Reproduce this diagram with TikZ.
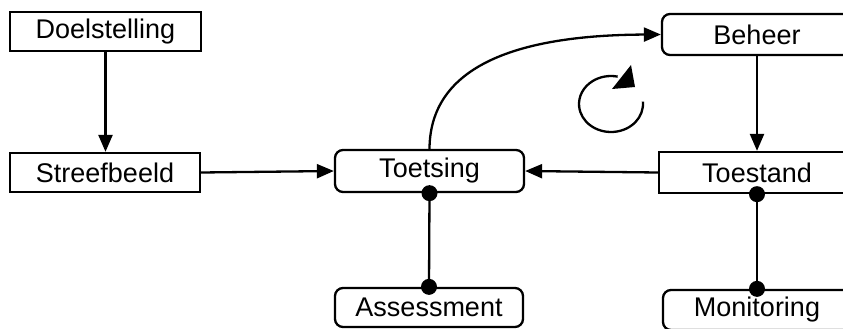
\documentclass[tikz,border=0pt]{standalone}
\usepackage{fontspec}
\setmainfont{Liberation Sans}
\usetikzlibrary{arrows.meta}
\tikzset{
  sqbox/.style={draw, line width=2.3pt, inner sep=0pt, minimum width=#1, minimum height=40pt, font=\fontsize{27}{32}\selectfont},
  rbox/.style={sqbox=#1, rounded corners=8pt},
  conn/.style={line width=2.3pt, -{Triangle[length=17pt,width=14pt]}},
  plain/.style={line width=2.3pt},
  dotr/.style={fill=black}
}
\begin{document}
\begin{tikzpicture}[x=1pt,y=-1pt]
\useasboundingbox (0,0) rectangle (843,329);
\clip (0,0) rectangle (843,329);
\node[sqbox=191pt, minimum height=39pt] (doel) at (105.5,31.5) {Doelstelling};
\node[sqbox=190pt, minimum height=39pt] (streef) at (105,172.5) {Streefbeeld};
\node[rbox=189pt, minimum height=42pt] (toets) at (429.5,171) {Toetsing};
\node[rbox=188pt, minimum height=39pt] (assess) at (429,307.5) {Assessment};
\node[rbox=190pt, minimum height=41pt] (beheer) at (757,34.5) {Beheer};
\node[sqbox=196pt, minimum height=41pt] (toestand) at (757,172.5) {Toestand};
\node[rbox=188pt, minimum height=40pt] (monitor) at (757,310) {Monitoring};

\draw[conn] (doel.south) -- (doel.south |- streef.north);
\draw[conn] (streef.east) -- (toets.west);
\draw[conn] (toestand.west) -- (toets.east);
\draw[conn] (beheer.south) -- (toestand.north);
\draw[conn] (toets.north) .. controls (430,60) and (530,35) .. (beheer.west);

\draw[plain] (toets.south) -- (assess.north);
\fill[dotr] (toets.south) circle (8pt);
\fill[dotr] (assess.north) circle (8pt);
\draw[plain] (toestand.south) -- (monitor.north);
\fill[dotr] (toestand.south) circle (8pt);
\fill[dotr] (monitor.north) circle (8pt);

% circular arrow
\coordinate (cc) at (611,104);
\draw[plain] (cc) ++(5:32pt and 28pt) arc[start angle=5, end angle=-282, x radius=32pt, y radius=28pt];
\fill (612,89) -- (635,87) -- (631,65) -- cycle;
\end{tikzpicture}
\end{document}
